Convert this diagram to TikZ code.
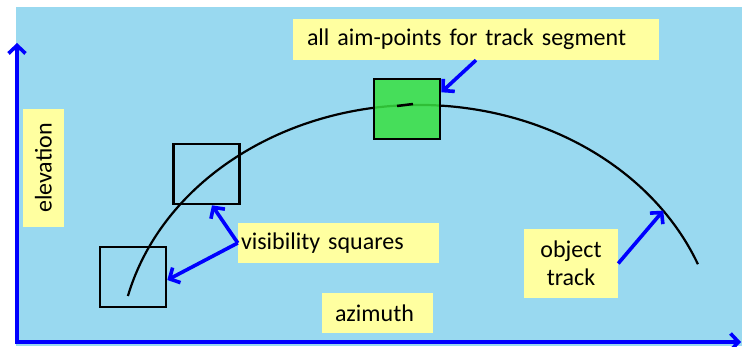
\documentclass[tikz,border=0pt]{standalone}
\usepackage{fontspec}
\setmainfont{Carlito}
\usepackage{xcolor}
\definecolor{skyback}{RGB}{153,217,240}
\definecolor{notey}{RGB}{255,255,160}
\definecolor{aimgreen}{RGB}{56,224,64}
\definecolor{ptrblue}{RGB}{0,0,255}
\usetikzlibrary{arrows.meta,calc}

\begin{document}
\begin{tikzpicture}[
  x=1pt,y=1pt,
  every node/.style={font=\fontsize{24}{28}\selectfont},
  notebox/.style={fill=notey,inner sep=0pt,align=center},
  visbox/.style={draw=black,line width=2.6pt,minimum width=66pt,minimum height=60pt,inner sep=0pt},
  pointer/.style={draw=ptrblue,line width=3.6pt,-{Straight Barb[length=8pt,width=17pt]}},
  axisline/.style={draw=ptrblue,line width=3.6pt},
  trackline/.style={draw=black,line width=2.2pt},
]
  \useasboundingbox (0,0) rectangle (742,347);
  \fill[skyback] (16,1) rectangle (742,340);

  % Axes
  \coordinate (origin) at (17,5);
  \coordinate (eltop) at (17,304);
  \coordinate (azend) at (741,5);
  \draw[axisline,{Straight Barb[length=8pt,width=17pt]}-{Straight Barb[length=8pt,width=17pt]}]
    (eltop) -- (origin) -- (azend);

  % Object track
  \coordinate (ctr) at (419,-10);
  \draw[trackline] ($(ctr)+(166:300 and 252)$) arc[start angle=166,end angle=21.6,x radius=300,y radius=252];
  \coordinate (hit) at ($(ctr)+(35.5:300 and 252)$);

  % Visibility squares
  \node[visbox] (sqlow) at (133,70) {};
  \node[visbox] (sqmid) at (206.5,173) {};
  \node[visbox,fill=aimgreen,fill opacity=.85] (sqaim) at (407,238) {};
  \draw[line width=2.5pt] (397,241) -- (413,243);

  % Notes
  \node[notebox,minimum width=366pt,minimum height=41pt,text width=338pt,align=left] (aimnote) at (476,307.5) {all aim-points for track segment};
  \node[notebox,minimum width=201pt,minimum height=40pt,text width=195pt,align=left] (visnote) at (338.5,104) {visibility squares};
  \node[notebox,minimum width=111pt,minimum height=40pt,text width=85pt,align=left] (aznote) at (377.5,34) {azimuth};
  \node[notebox,minimum width=94pt,minimum height=69pt] (objnote) at (571,83.5) {object\\track};
  \node[notebox,minimum width=118pt,minimum height=41pt,rotate=90] (elevnote) at (43.5,179) {elevation};

  % Pointers
  \draw[pointer] (visnote.west) -- (sqmid.-80);
  \draw[pointer] (visnote.west) -- (sqlow.-5);
  \draw[pointer] (aimnote.south) -- (sqaim.26);
  \draw[pointer] (objnote.east) -- (hit);
\end{tikzpicture}
\end{document}
